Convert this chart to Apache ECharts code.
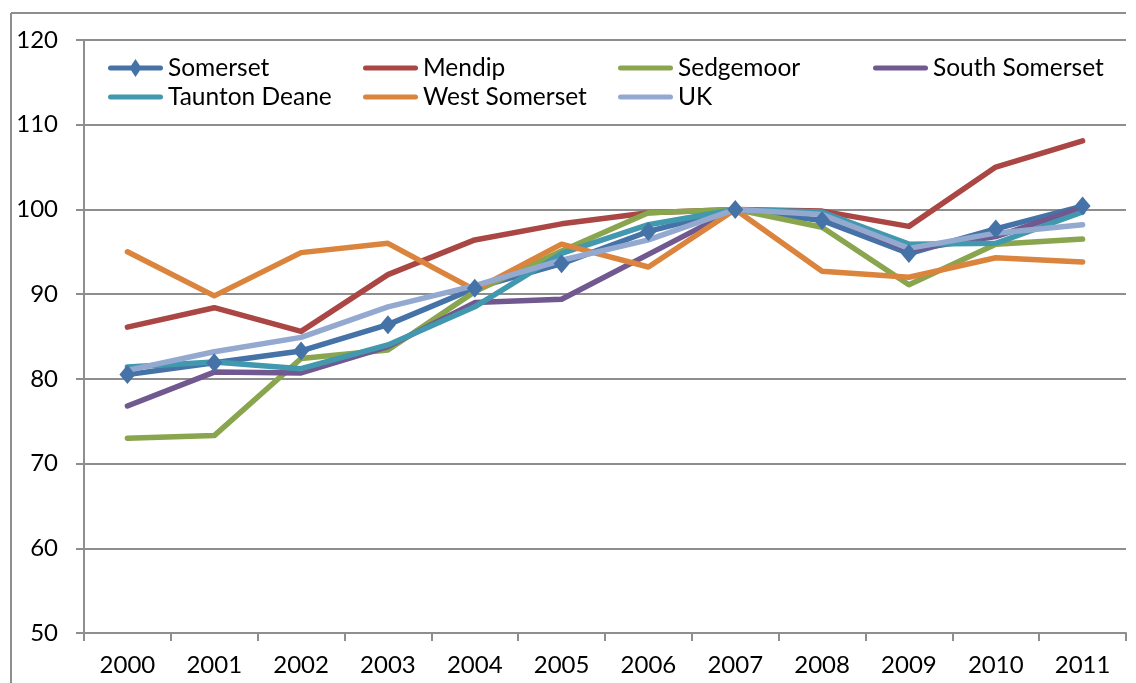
<!DOCTYPE html>
<html>
<head>
<meta charset="utf-8">
<script src="https://cdn.jsdelivr.net/npm/echarts@6/dist/echarts.min.js"></script>
<style>
  html, body { margin: 0; padding: 0; background: #ffffff; }
  #chart { width: 1136px; height: 683px; }
</style>
</head>
<body>
<div id="chart"></div>
<script>
// Years along the category axis
const years = ['2000','2001','2002','2003','2004','2005','2006','2007','2008','2009','2010','2011'];

// Index values (2007 = 100)
const somerset      = [80.5, 81.9, 83.3, 86.4, 90.7, 93.6, 97.4, 100.0, 98.7, 94.8, 97.7, 100.4];
const mendip        = [86.1, 88.4, 85.6, 92.3, 96.4, 98.3, 99.6, 100.0, 99.8, 98.0, 105.0, 108.1];
const sedgemoor     = [73.0, 73.3, 82.4, 83.4, 90.3, 95.1, 99.6, 100.0, 97.9, 91.1, 95.9, 96.5];
const southSomerset = [76.8, 80.8, 80.7, 83.8, 89.0, 89.4, 94.7, 100.0, 99.5, 95.2, 96.8, 100.2];
const tauntonDeane  = [81.4, 82.0, 81.2, 84.0, 88.5, 94.8, 98.2, 100.0, 99.7, 95.9, 96.0, 99.7];
const westSomerset  = [95.0, 89.8, 94.9, 96.0, 90.5, 95.9, 93.2, 100.0, 92.7, 92.0, 94.3, 93.8];
const uk            = [81.0, 83.2, 84.9, 88.5, 91.0, 94.0, 96.4, 100.0, 99.4, 95.4, 97.2, 98.2];

// Value axis range
const yMin = 50, yMax = 120, yStep = 10;

const seriesDefs = [
  { name: 'Somerset',       data: somerset,      color: '#4572A7', marker: true },
  { name: 'Mendip',         data: mendip,        color: '#AA4643' },
  { name: 'Sedgemoor',      data: sedgemoor,     color: '#89A54E' },
  { name: 'South Somerset', data: southSomerset, color: '#71588F' },
  { name: 'Taunton Deane',  data: tauntonDeane,  color: '#4198AF' },
  { name: 'West Somerset',  data: westSomerset,  color: '#DB843D' },
  { name: 'UK',             data: uk,            color: '#93A9CF' }
];

// Legend slots: two rows, four columns
const legendSlots = [
  [108, 0], [363, 0], [618, 0], [873, 0],
  [108, 1], [363, 1], [618, 1]
];

const FONT = 'Lato, "Liberation Sans", sans-serif';
const GRID_COLOR = '#8e8e8e';
const LABEL_SIZE = 24;
const LEGEND_LINE_H = 30;

// Legend keys: a rounded bar, and a rounded bar with a diamond on it
const BAR_ICON = 'path://M2.5,0 L52.5,0 A2.5,2.5 0 0 1 52.5,5 L2.5,5 A2.5,2.5 0 0 1 2.5,0 Z';
const BAR_DIAMOND_ICON = 'path://M2.5,6.5 L52.5,6.5 A2.5,2.5 0 0 1 52.5,11.5 L2.5,11.5 A2.5,2.5 0 0 1 2.5,6.5 Z M27.5,0 L33.5,9 L27.5,18 L21.5,9 Z';

const legends = seriesDefs.map((s, i) => {
  const rowY = legendSlots[i][1] === 0 ? 68 : 97;
  return {
    data: [{ name: s.name, icon: s.marker ? BAR_DIAMOND_ICON : BAR_ICON }],
    left: legendSlots[i][0],
    top: rowY - LEGEND_LINE_H / 2,
    itemWidth: 55,
    itemHeight: s.marker ? 18 : 5,
    padding: 0,
    textStyle: { fontFamily: FONT, fontSize: 24.5, color: '#000000', lineHeight: LEGEND_LINE_H }
  };
});

const chart = echarts.init(document.getElementById('chart'), null, { renderer: 'canvas' });

chart.setOption({
  backgroundColor: '#ffffff',
  animation: false,
  legend: legends,
  grid: { left: 84, right: 10, top: 40, bottom: 50, containLabel: false },
  xAxis: {
    type: 'category',
    data: years,
    boundaryGap: true,
    axisLine: { lineStyle: { color: GRID_COLOR, width: 2 } },
    axisTick: { show: true, length: 8, interval: 0, lineStyle: { color: GRID_COLOR, width: 2 } },
    axisLabel: { margin: 20, fontFamily: FONT, fontSize: LABEL_SIZE, color: '#000000', interval: 0 },
    splitLine: { show: false }
  },
  yAxis: {
    type: 'value',
    min: yMin,
    max: yMax,
    interval: yStep,
    axisLine: { show: true, lineStyle: { color: GRID_COLOR, width: 2 } },
    axisTick: { show: true, length: 8, lineStyle: { color: GRID_COLOR, width: 2 } },
    axisLabel: { margin: 26, fontFamily: FONT, fontSize: LABEL_SIZE, color: '#000000' },
    splitLine: { show: true, lineStyle: { color: GRID_COLOR, width: 2 } }
  },
  graphic: [
    { type: 'line', shape: { x1: 11, y1: 13, x2: 11, y2: 683 }, style: { stroke: GRID_COLOR, lineWidth: 2 } },
    { type: 'line', shape: { x1: 11, y1: 13, x2: 1126, y2: 13 }, style: { stroke: GRID_COLOR, lineWidth: 2 } }
  ],
  series: seriesDefs.map(s => ({
    name: s.name,
    type: 'line',
    data: s.data,
    color: s.color,
    symbol: s.marker ? 'diamond' : 'none',
    symbolSize: s.marker ? [16, 19] : 0,
    showSymbol: !!s.marker,
    itemStyle: { color: s.color },
    lineStyle: { color: s.color, width: 5.5, cap: 'round', join: 'round' },
    emphasis: { disabled: true }
  }))
});
</script>
</body>
</html>
